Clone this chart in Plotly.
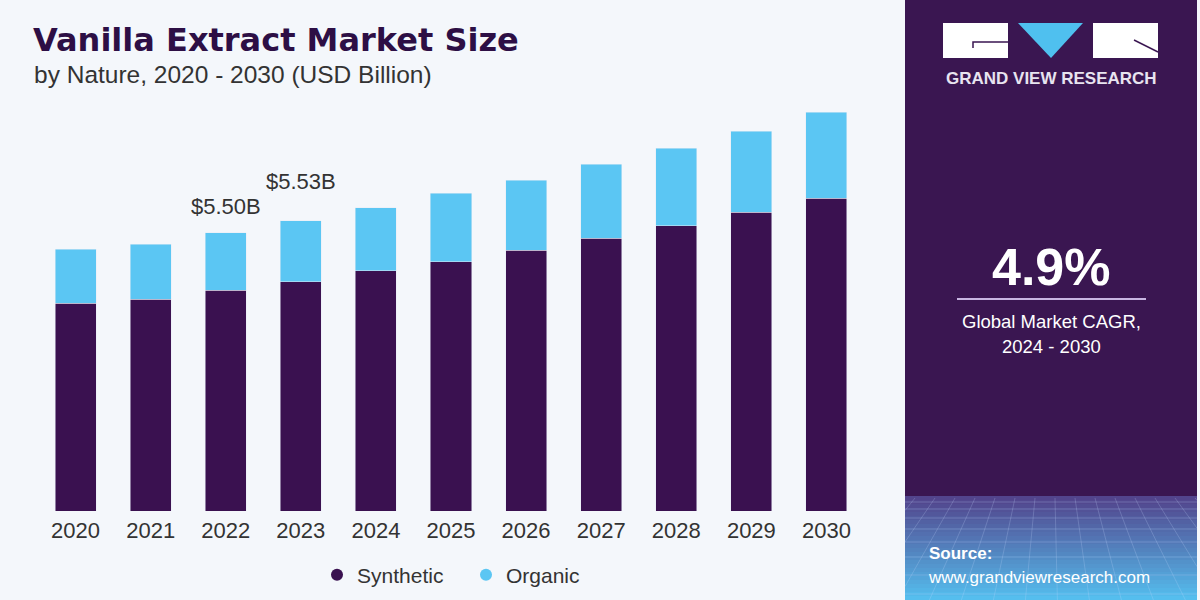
import plotly.graph_objects as go

years = ["2020", "2021", "2022", "2023", "2024", "2025", "2026", "2027", "2028", "2029", "2030"]
synthetic = [4.11, 4.19, 4.37, 4.53, 4.75, 4.93, 5.16, 5.40, 5.64, 5.91, 6.19]
organic = [1.07, 1.09, 1.13, 1.21, 1.25, 1.36, 1.38, 1.46, 1.54, 1.60, 1.70]
labels = {"2022": "$5.50B", "2023": "$5.53B"}

DARK = "#3a1150"
LIGHT = "#5bc6f3"
BG = "#f4f7fb"
PANEL = "#3a1651"

W, H = 1200, 600
L, R, T, B = 38, 336, 100, 89
pw, ph = W - L - R, H - T - B


def px(x):
    return (x - L) / pw


def py(y):
    return (H - B - y) / ph


fig = go.Figure()
fig.add_trace(go.Bar(x=years, y=synthetic, marker_color=DARK, showlegend=False,
                     hoverinfo="skip"))
fig.add_trace(go.Bar(x=years, y=organic, marker_color=LIGHT, showlegend=False,
                     hoverinfo="skip"))
fig.add_trace(go.Scatter(x=[None], y=[None], mode="markers", name="Synthetic",
                         marker=dict(color=DARK, size=17, symbol="circle")))
fig.add_trace(go.Scatter(x=[None], y=[None], mode="markers", name="Organic",
                         marker=dict(color=LIGHT, size=17, symbol="circle")))

shapes = []
PX0, PX1 = 905, 1197
# right panel
shapes.append(dict(type="rect", xref="paper", yref="paper", x0=px(PX0), x1=px(PX1),
                   y0=py(600), y1=py(0), fillcolor=PANEL, line=dict(width=0), layer="below"))
# gradient at the bottom of the panel
c0 = (0x52, 0x44, 0x8c)
c1 = (0x55, 0xbe, 0xee)
n = 26
y_start, y_end = 496, 600
for i in range(n):
    t = i / (n - 1)
    col = tuple(int(c0[k] + (c1[k] - c0[k]) * t) for k in range(3))
    ya = y_start + (y_end - y_start) * i / n
    yb = y_start + (y_end - y_start) * (i + 1) / n
    shapes.append(dict(type="rect", xref="paper", yref="paper", x0=px(PX0), x1=px(PX1),
                       y0=py(yb), y1=py(ya), fillcolor="rgb(%d,%d,%d)" % col,
                       line=dict(width=0), layer="below"))
# faint grid lines in gradient
for yy in [502, 509, 518, 529, 542, 557, 575, 594]:
    shapes.append(dict(type="line", xref="paper", yref="paper", x0=px(PX0), x1=px(PX1),
                       y0=py(yy), y1=py(yy), line=dict(color="rgba(200,220,255,0.25)", width=1)))
for xx in range(915, 1197, 20):
    xa, ya_ = xx, 498.0
    xb = 1051 + (xx - 1051) * 1.6
    yb_ = 600.0
    if xb < PX0:
        t = (PX0 - xa) / (xb - xa)
        xb, yb_ = PX0, ya_ + (yb_ - ya_) * t
    if xb > PX1:
        t = (PX1 - xa) / (xb - xa)
        xb, yb_ = PX1, ya_ + (yb_ - ya_) * t
    shapes.append(dict(type="line", xref="paper", yref="paper", x0=px(xa), x1=px(xb),
                       y0=py(ya_), y1=py(yb_), line=dict(color="rgba(200,220,255,0.22)", width=1)))
# logo
shapes.append(dict(type="rect", xref="paper", yref="paper", x0=px(943), x1=px(1008),
                   y0=py(58), y1=py(23), fillcolor="white", line=dict(width=0)))
shapes.append(dict(type="rect", xref="paper", yref="paper", x0=px(1093), x1=px(1158),
                   y0=py(58), y1=py(23), fillcolor="white", line=dict(width=0)))
shapes.append(dict(type="path", xref="paper", yref="paper",
                   path="M %f %f L %f %f L %f %f Z" % (px(1018), py(23), px(1083), py(23), px(1051), py(58)),
                   fillcolor="#4fc0ef", line=dict(width=0)))
shapes.append(dict(type="path", xref="paper", yref="paper",
                   path="M %f %f L %f %f L %f %f" % (px(973), py(48), px(973), py(42), px(1008), py(42)),
                   line=dict(color=PANEL, width=1.5)))
shapes.append(dict(type="line", xref="paper", yref="paper", x0=px(1134), x1=px(1158),
                   y0=py(40), y1=py(52), line=dict(color=PANEL, width=1.5)))
# divider line
shapes.append(dict(type="line", xref="paper", yref="paper", x0=px(957), x1=px(1146),
                   y0=py(299), y1=py(299), line=dict(color="#c8b6e2", width=2)))

ann = []
for yr, txt in labels.items():
    i = years.index(yr)
    tot = synthetic[i] + organic[i]
    shift = 26 if yr == "2022" else 39
    ann.append(dict(x=i, y=tot, xref="x", yref="y", text=txt.replace("$", "&#36;"),
                    showarrow=False, xanchor="center", yanchor="middle", yshift=shift,
                    font=dict(family="Liberation Sans, Arial", size=22, color="#333333")))

ann.append(dict(x=px(31), y=py(40), xref="paper", yref="paper", xanchor="left", yanchor="middle",
                text="<b>Vanilla Extract Market Size</b>", showarrow=False,
                font=dict(family="DejaVu Sans", size=32, color="#2d0f45")))
ann.append(dict(x=px(32), y=py(75), xref="paper", yref="paper", xanchor="left", yanchor="middle",
                text="by Nature, 2020 - 2030 (USD Billion)", showarrow=False,
                font=dict(family="Liberation Sans, Arial", size=24.5, color="#333333")))
ann.append(dict(x=px(1051), y=py(78), xref="paper", yref="paper", xanchor="center", yanchor="middle",
                text="<b>GRAND VIEW RESEARCH</b>", showarrow=False,
                font=dict(family="Liberation Sans, Arial", size=17, color="#e8e4f0")))
ann.append(dict(x=px(1051), y=py(267), xref="paper", yref="paper", xanchor="center", yanchor="middle",
                text="<b>4.9%</b>", showarrow=False,
                font=dict(family="Liberation Sans, Arial", size=52, color="white")))
ann.append(dict(x=px(1051), y=py(321), xref="paper", yref="paper", xanchor="center", yanchor="middle",
                text="Global Market CAGR,", showarrow=False,
                font=dict(family="Liberation Sans, Arial", size=18.5, color="white")))
ann.append(dict(x=px(1051), y=py(346), xref="paper", yref="paper", xanchor="center", yanchor="middle",
                text="2024 - 2030", showarrow=False,
                font=dict(family="Liberation Sans, Arial", size=18.5, color="white")))
ann.append(dict(x=px(927), y=py(553), xref="paper", yref="paper", xanchor="left", yanchor="middle",
                text="<b>Source:</b>", showarrow=False,
                font=dict(family="Liberation Sans, Arial", size=17, color="white")))
ann.append(dict(x=px(926), y=py(577), xref="paper", yref="paper", xanchor="left", yanchor="middle",
                text="www.grandviewresearch.com", showarrow=False,
                font=dict(family="Liberation Sans, Arial", size=17, color="white")))

fig.update_layout(
    width=W, height=H,
    margin=dict(l=L, r=R, t=T, b=B, autoexpand=False),
    barmode="stack", bargap=0.453,
    paper_bgcolor=BG, plot_bgcolor=BG,
    shapes=shapes, annotations=ann,
    showlegend=True,
    legend=dict(orientation="h", x=px(317), xanchor="left", y=py(575), yanchor="middle",
                traceorder="normal", entrywidth=104, entrywidthmode="pixels",
                font=dict(family="Liberation Sans, Arial", size=21, color="#333333"),
                bgcolor="rgba(0,0,0,0)", itemsizing="constant"),
    xaxis=dict(type="category", showgrid=False, zeroline=False, showline=False, ticks="",
               tickfont=dict(family="Liberation Sans, Arial", size=22, color="#333333"),
               ticklabelstandoff=4,
               range=[-0.5, 10.5], fixedrange=True, automargin=False),
    yaxis=dict(showgrid=False, zeroline=False, showline=False, showticklabels=False,
               range=[0, 8.13], fixedrange=True, automargin=False),
)

fig.write_html("out.html", config={"displayModeBar": False})
